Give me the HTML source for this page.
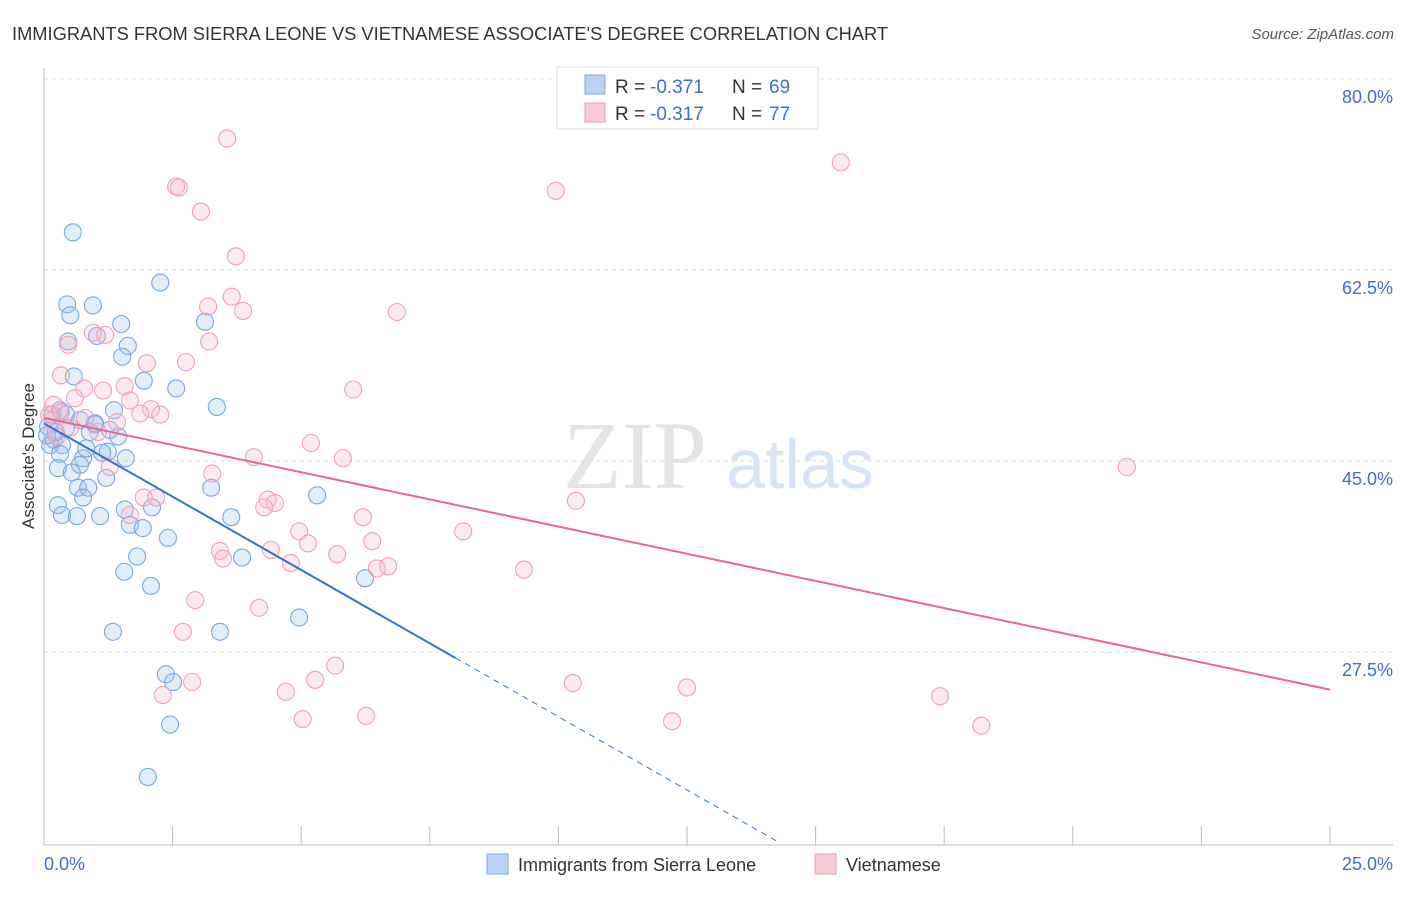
<!DOCTYPE html>
<html><head><meta charset="utf-8">
<style>
body{margin:0;background:#fff;font-family:"Liberation Sans",sans-serif;}
svg text{font-family:"Liberation Sans",sans-serif;}
</style></head>
<body>
<svg id="chart" width="1406" height="892" viewBox="0 0 1406 892">
<text x="12" y="40" font-size="18.3" fill="#333">IMMIGRANTS FROM SIERRA LEONE VS VIETNAMESE ASSOCIATE'S DEGREE CORRELATION CHART</text>
<text x="1394" y="39" font-size="15" fill="#555" text-anchor="end" font-style="italic">Source: ZipAtlas.com</text>
<g id="grid"></g>
<text x="635" y="488" font-size="96" fill="#e4e4e4" text-anchor="middle" style="font-family:'Liberation Serif',serif">ZIP</text>
<text x="800" y="488" font-size="70" fill="#d6e4f5" text-anchor="middle">atlas</text>
<g id="axes"></g>
<g id="points"></g>
<g id="trends"></g>
<text transform="translate(34,456) rotate(-90)" font-size="17" fill="#333" text-anchor="middle">Associate's Degree</text>
<g>
<rect x="557" y="67" width="261" height="62" fill="#fff" stroke="#ddd"/>
<rect x="585" y="75" width="20" height="19" fill="#b8d3f5" stroke="#7faae6"/>
<rect x="585" y="103" width="20" height="19" fill="#fccbd8" stroke="#ef9ab3"/>
<text x="615" y="93" font-size="19" fill="#333">R =</text>
<text x="650" y="93" font-size="19" fill="#3b6fd4">-0.371</text>
<text x="732" y="93" font-size="19" fill="#333">N =</text>
<text x="769" y="93" font-size="19" fill="#3b6fd4">69</text>
<text x="615" y="120" font-size="19" fill="#333">R =</text>
<text x="650" y="120" font-size="19" fill="#3b6fd4">-0.317</text>
<text x="732" y="120" font-size="19" fill="#333">N =</text>
<text x="769" y="120" font-size="19" fill="#3b6fd4">77</text>
</g>
<g>
<rect x="487" y="854" width="21" height="20" fill="#b8d3f5" stroke="#7faae6"/>
<text x="518" y="871" font-size="18" fill="#333">Immigrants from Sierra Leone</text>
<rect x="815" y="854" width="21" height="20" fill="#fccbd8" stroke="#ef9ab3"/>
<text x="846" y="871" font-size="18" fill="#333">Vietnamese</text>
</g>
</svg>
<script>
const blueX=[0.56,0.45,0.95,0.51,1.50,0.47,1.03,1.63,1.52,2.26,1.94,2.57,0.58,3.13,3.36,1.36,0.16,0.43,0.70,0.99,0.89,1.44,0.19,0.35,0.12,1.24,1.13,1.59,0.31,0.76,0.70,0.27,0.54,1.21,0.66,0.86,3.25,0.76,0.27,0.35,0.64,1.09,1.57,2.10,1.67,1.92,3.64,2.41,1.81,3.85,1.56,2.08,5.31,6.24,4.96,1.34,3.42,2.37,2.51,2.45,2.02,0.08,0.23,0.99,0.82,0.06,0.31,1.28,0.43];
const blueY=[67.6,61.0,60.9,60.0,59.2,57.6,58.1,57.2,56.2,63.0,54.0,53.3,54.4,59.4,51.6,51.3,50.9,50.9,50.4,50.0,49.3,48.9,48.6,48.1,48.1,47.5,47.4,46.9,47.3,46.9,46.3,46.0,45.6,45.1,44.2,44.2,44.2,43.3,42.6,41.7,41.6,41.6,42.2,42.4,40.8,40.5,41.5,39.6,37.9,37.8,36.5,35.2,43.5,35.9,32.3,31.0,31.0,27.1,26.4,22.5,17.7,49.8,49.3,50.1,47.8,49.0,51.3,49.5,49.7];
const pinkX=[3.56,2.57,2.62,3.05,3.73,9.95,15.49,3.65,3.19,3.87,6.86,0.95,1.19,0.47,3.21,2.00,2.76,0.33,0.78,1.15,1.57,6.01,0.60,1.67,2.08,2.26,1.87,0.19,0.33,0.80,1.42,0.16,0.51,1.05,0.25,5.19,4.08,5.81,1.28,3.27,21.05,10.34,1.94,2.18,4.35,4.49,4.28,1.67,6.20,4.96,8.15,5.13,6.38,3.42,4.41,5.70,3.48,4.80,6.47,6.69,9.33,2.94,4.18,2.70,5.66,5.27,10.28,12.50,2.88,2.31,4.70,17.42,5.03,6.26,12.21,18.22,0.10];
const pinkY=[76.2,71.8,71.7,69.5,65.4,71.4,74.0,61.7,60.8,60.4,60.3,58.4,58.2,57.3,57.6,55.6,55.7,54.5,53.3,53.1,53.5,53.2,52.4,52.2,51.4,50.9,51.0,51.8,51.1,50.6,50.2,50.4,49.7,49.3,48.9,48.3,47.0,46.9,46.1,45.5,46.1,43.0,43.3,43.3,43.1,42.8,42.4,41.7,41.5,40.2,40.2,39.1,39.3,38.4,38.5,38.1,37.7,37.3,36.8,37.0,36.7,33.9,33.2,31.0,27.9,26.6,26.3,25.9,26.4,25.2,25.5,25.1,23.0,23.3,22.8,22.4,50.9];
const yTicks=[80,62.5,45,27.5];
const yTickLabels=["80.0%","62.5%","45.0%","27.5%"];
const xTickVals=[0,2.5,5,7.5,10,12.5,15,17.5,20,22.5,25];
const blueTrend=[50.1,28.6];
const blueTrendX=[0,8.0,14.3];
const pinkTrend=[50.6,25.7];
const NS="http://www.w3.org/2000/svg";
function xs(v){return 44+v*51.44;}
function ys(v){return 97+(80-v)*10.914;}
function mk(tag,attrs,parent){const e=document.createElementNS(NS,tag);for(const k in attrs)e.setAttribute(k,attrs[k]);parent.appendChild(e);return e;}
const grid=document.getElementById('grid'),axes=document.getElementById('axes'),pts=document.getElementById('points'),tr=document.getElementById('trends');
yTicks.forEach((v,i)=>{
  const l=mk('line',{x1:44,x2:1393,y1:ys(v)-18,y2:ys(v)-18,stroke:'#ddd','stroke-dasharray':'4,4'},grid);
  
  
  const t=mk('text',{x:1393,y:ys(v)+6,'font-size':18,fill:'#3b6fd4','text-anchor':'end'},axes);
  t.textContent=yTickLabels[i];
  
  
});
const ax=mk('line',{x1:44,x2:44,y1:68,y2:845,stroke:'#bbb'},axes);


const bx=mk('line',{x1:44,x2:1393,y1:845,y2:845,stroke:'#bbb'},axes);


xTickVals.forEach(v=>{
  const t=mk('line',{x1:xs(v),x2:xs(v),y1:826,y2:845,stroke:'#bbb'},axes);
  
  
});
const xl0=mk('text',{x:44,y:870,'font-size':18,fill:'#3b6fd4'},axes);xl0.textContent='0.0%';


const xl1=mk('text',{x:1393,y:870,'font-size':18,fill:'#3b6fd4','text-anchor':'end'},axes);xl1.textContent='25.0%';


blueX.forEach((v,i)=>{
  const c=mk('circle',{cx:xs(v),cy:ys(blueY[i]),r:8.5,fill:'rgba(160,196,240,0.3)',stroke:'#78a6e4','stroke-width':1.1},pts);
  
  
});
pinkX.forEach((v,i)=>{
  const c=mk('circle',{cx:xs(v),cy:ys(pinkY[i]),r:8.5,fill:'rgba(248,185,205,0.3)',stroke:'#eea0b8','stroke-width':1.1},pts);
  
  
});
const bslope=(blueTrend[1]-blueTrend[0])/blueTrendX[1];
const b1=mk('line',{x1:xs(0),y1:ys(blueTrend[0]),x2:xs(blueTrendX[1]),y2:ys(blueTrend[1]),stroke:'#2f74d8','stroke-width':2},tr);


const b2=mk('line',{x1:xs(blueTrendX[1]),y1:ys(blueTrend[1]),x2:xs(blueTrendX[2]),y2:ys(blueTrend[0]+bslope*blueTrendX[2]),stroke:'#2f74d8','stroke-width':1,'stroke-dasharray':'6,5'},tr);


const p1=mk('line',{x1:xs(0),y1:ys(pinkTrend[0]),x2:xs(25),y2:ys(pinkTrend[1]),stroke:'#e8668f','stroke-width':2},tr);


</script>
</body></html>
